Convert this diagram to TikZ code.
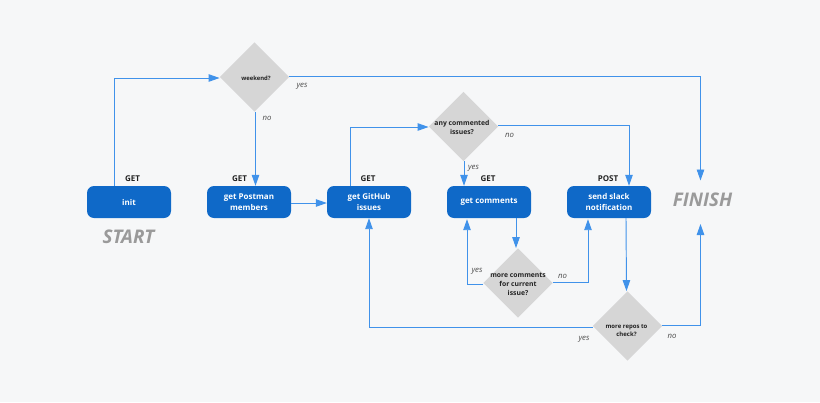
\documentclass[tikz,border=0pt]{standalone}
\usepackage{fontspec}
\setmainfont{Open Sans}
\usetikzlibrary{arrows.meta,shapes.geometric}
\definecolor{bgc}{HTML}{F6F7F8}
\definecolor{boxc}{HTML}{0F69C8}
\definecolor{diac}{HTML}{D6D6D6}
\definecolor{linec}{HTML}{4092EA}
\definecolor{grayc}{HTML}{9A9A9A}
\definecolor{txtc}{HTML}{222222}
\tikzset{
  x=1pt,y=-1pt,
  task/.style={draw=none,fill=boxc,rounded corners=7pt,minimum width=84pt,minimum height=32pt,inner sep=0pt,
    text=white,font=\fontsize{8}{11}\selectfont\bfseries,align=center},
  decision/.style={diamond,aspect=1,fill=diac,minimum width=69.5pt,minimum height=69.5pt,inner sep=0pt},
  dlabel/.style={font=\fontsize{6.8}{9}\selectfont\bfseries,text=txtc,align=center,inner sep=0pt},
  verb/.style={font=\fontsize{8}{9}\selectfont\bfseries,text=txtc,inner sep=0pt},
  ans/.style={font=\fontsize{7.8}{9}\selectfont\itshape,text=black!70,inner sep=0pt},
  endlabel/.style={font=\fontsize{18.8}{20}\selectfont\bfseries\itshape,text=grayc,inner sep=0pt},
  flow/.style={draw=linec,line width=0.95pt,-{Triangle[length=11pt,width=7.5pt]}},
}
\begin{document}
\begin{tikzpicture}
\useasboundingbox[fill=bgc] (0,0) rectangle (820,402);
% tasks
\node[task] (init) at (129,202) {init};
\node[task] (postman) at (249,202) {get Postman\\members};
\node[task] (github) at (369,202) {get GitHub\\issues};
\node[task] (comments) at (489,202) {get comments};
\node[task] (slack) at (609,202) {send slack\\notification};
% decisions
\node[decision] (weekend) at (254.5,77) {};
\node[decision] (anyc) at (463.5,126.5) {};
\node[decision] (morec) at (518,283) {};
\node[decision] (morer) at (627.5,326) {};
\node[dlabel,font=\fontsize{5.9}{8}\selectfont\bfseries] (tw) at (256,78.5) {weekend?};
\node[dlabel] (ta) at (462,127.5) {any commented\\issues?};
\node[dlabel] (tc) at (518,284) {more comments\\for current\\issue?};
\node[dlabel,font=\fontsize{6}{8}\selectfont\bfseries] (tr) at (626.5,331) {more repos to\\check?};
% verbs
\node[verb] (v1) at (132.5,179) {GET};
\node[verb] (v2) at (239.5,179) {GET};
\node[verb] (v3) at (368,179) {GET};
\node[verb] (v4) at (488,179) {GET};
\node[verb] (v5) at (608,179) {POST};
% ends
\node[endlabel] (start) at (128.5,237) {START};
\node[endlabel] (finish) at (702.5,200) {FINISH};
\coordinate (fintop) at (700.5,180.5);
\coordinate (finbot) at (700.5,224);
% answers
\node[ans] (a1) at (302,86) {yes};
\node[ans] (a2) at (267,118) {no};
\node[ans] (a3) at (509.5,135) {no};
\node[ans] (a4) at (473.5,168) {yes};
\node[ans] (a5) at (477,271) {yes};
\node[ans] (a6) at (562.5,276) {no};
\node[ans] (a7) at (584,339) {yes};
\node[ans] (a8) at (672,336) {no};
% connectors
\draw[flow] ([xshift=-15pt]init.north) |- ([yshift=-1pt]weekend.west);
\draw[flow] (weekend.east) ++(0,-1) -| (fintop);
\draw[flow] ([xshift=1pt]weekend.south) -- ([xshift=6.5pt]postman.north);
\draw[flow] (postman.east) ++(0,1) -- ([yshift=-1pt]github.west);
\draw[flow] ([xshift=-19pt]github.north) |- ([yshift=-0.5pt]anyc.west);
\draw[flow] (anyc.east) ++(0,-1.5) -| ([xshift=20pt]slack.north);
\draw[flow] ([xshift=0.5pt]anyc.south) -- ([xshift=-25pt]comments.north);
\draw[flow] ([xshift=27pt]comments.south) -- ([xshift=-2pt]morec.north);
\draw[flow] ([yshift=-1pt]morec.west) -| ([xshift=-22pt,yshift=-1pt]comments.south);
\draw[flow] ([yshift=1pt]morec.east) -| ([xshift=-21pt,yshift=-1pt]slack.south);
\draw[flow] ([xshift=17pt]slack.south) -- ([xshift=-1pt]morer.north);
\draw[flow] ([yshift=-1pt]morer.west) -| (github.south);
\draw[flow] ([yshift=1pt]morer.east) -| (finbot);
\end{tikzpicture}
\end{document}
